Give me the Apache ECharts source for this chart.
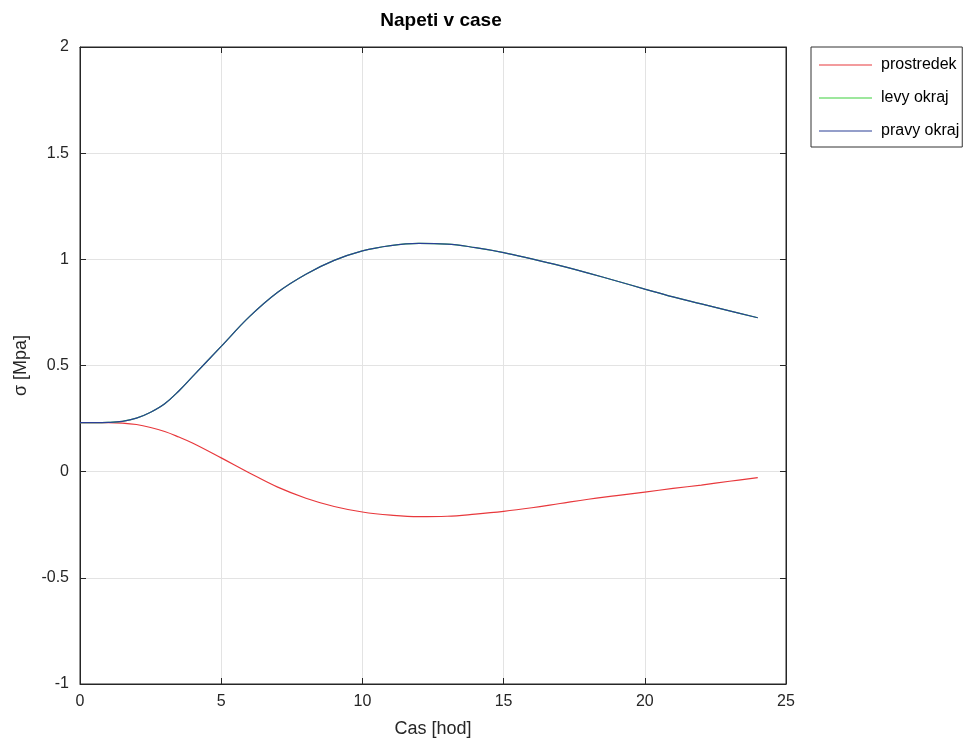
<!DOCTYPE html>
<html>
<head>
<meta charset="utf-8">
<script src="https://cdn.jsdelivr.net/npm/echarts@6/dist/echarts.min.js"></script>
<style>html,body{margin:0;padding:0;background:#fff;}#c{width:972px;height:744px;}</style>
</head>
<body>
<div id="c"></div>
<script>
const timeHours = [0, 0.5, 1, 1.5, 2, 2.5, 3, 3.5, 4, 5, 6, 7, 8, 9, 10, 11, 12, 13, 14, 15, 16, 17, 18, 19, 20, 21, 22, 23, 24];
const prostredek = [0.231, 0.231, 0.231, 0.229, 0.222, 0.208, 0.189, 0.163, 0.134, 0.065, -0.006, -0.073, -0.125, -0.164, -0.190, -0.205, -0.212, -0.210, -0.200, -0.187, -0.170, -0.150, -0.130, -0.113, -0.096, -0.079, -0.063, -0.045, -0.028];
const levyOkraj = [0.231, 0.231, 0.232, 0.237, 0.252, 0.280, 0.320, 0.380, 0.450, 0.590, 0.730, 0.845, 0.930, 0.995, 1.040, 1.065, 1.075, 1.072, 1.055, 1.032, 1.002, 0.970, 0.935, 0.898, 0.860, 0.823, 0.790, 0.757, 0.725];
const pravyOkraj = [0.231, 0.231, 0.232, 0.237, 0.252, 0.280, 0.320, 0.380, 0.450, 0.590, 0.730, 0.845, 0.930, 0.995, 1.040, 1.065, 1.075, 1.072, 1.055, 1.032, 1.002, 0.970, 0.935, 0.898, 0.860, 0.823, 0.790, 0.757, 0.725];
const seriesNames = ['prostredek', 'levy okraj', 'pravy okraj'];

const pairs = arr => timeHours.map((t, i) => [t, arr[i]]);
const font = 'Liberation Sans';
const chart = echarts.init(document.getElementById('c'));
const lineSeries = (name, data, color) => ({
  name, type: 'line', data: pairs(data), smooth: 0.4, showSymbol: false,
  lineStyle: { color, width: 1.2 }, itemStyle: { color }, animation: false
});
const tickStyle = { show: true, inside: true, length: 6, lineStyle: { color: '#262626' } };
const lineStyleAxis = { show: true, onZero: false, lineStyle: { color: '#262626' } };
chart.setOption({
  backgroundColor: '#fff',
  animation: false,
  title: {
    text: 'Napeti v case', left: 436, top: 6, textAlign: 'center',
    textStyle: { fontFamily: font, fontSize: 19, fontWeight: 'bold', color: '#000' }
  },
  legend: {
    orient: 'vertical', left: 811, top: 47,
    padding: [10, 3, 8, 8], itemGap: 17,
    borderColor: '#333', borderWidth: 1, backgroundColor: '#fff',
    icon: 'rect', itemWidth: 53, itemHeight: 1.2,
    data: seriesNames,
    textStyle: { fontFamily: font, fontSize: 16, color: '#000', padding: [0, 0, 0, 4] }
  },
  grid: { left: 80, right: 186, top: 47, bottom: 60, show: true, borderColor: '#262626', borderWidth: 1 },
  xAxis: [{
    type: 'value', min: 0, max: 25, interval: 5,
    name: 'Cas [hod]', nameLocation: 'middle', nameGap: 36,
    nameTextStyle: { fontFamily: font, fontSize: 18, color: '#262626' },
    axisLine: lineStyleAxis, axisTick: tickStyle,
    axisLabel: { fontFamily: font, fontSize: 16, color: '#262626', margin: 10 },
    splitLine: { show: true, lineStyle: { color: '#e3e3e3' } }
  }, {
    type: 'value', min: 0, max: 25, interval: 5, position: 'top',
    axisLine: lineStyleAxis, axisTick: tickStyle,
    axisLabel: { show: false }, splitLine: { show: false }
  }],
  yAxis: [{
    type: 'value', min: -1, max: 2, interval: 0.5,
    name: 'σ [Mpa]', nameLocation: 'middle', nameGap: 50, nameRotate: 90,
    nameTextStyle: { fontFamily: font, fontSize: 18, color: '#262626' },
    axisLine: lineStyleAxis, axisTick: tickStyle,
    axisLabel: { fontFamily: font, fontSize: 16, color: '#262626', margin: 11 },
    splitLine: { show: true, lineStyle: { color: '#e3e3e3' } }
  }, {
    type: 'value', min: -1, max: 2, interval: 0.5, position: 'right',
    axisLine: lineStyleAxis, axisTick: tickStyle,
    axisLabel: { show: false }, splitLine: { show: false }
  }],
  series: [
    lineSeries('prostredek', prostredek, '#e8383c'),
    lineSeries('levy okraj', levyOkraj, '#3ccf3c'),
    lineSeries('pravy okraj', pravyOkraj, '#2a3f96')
  ]
});
</script>
</body>
</html>
